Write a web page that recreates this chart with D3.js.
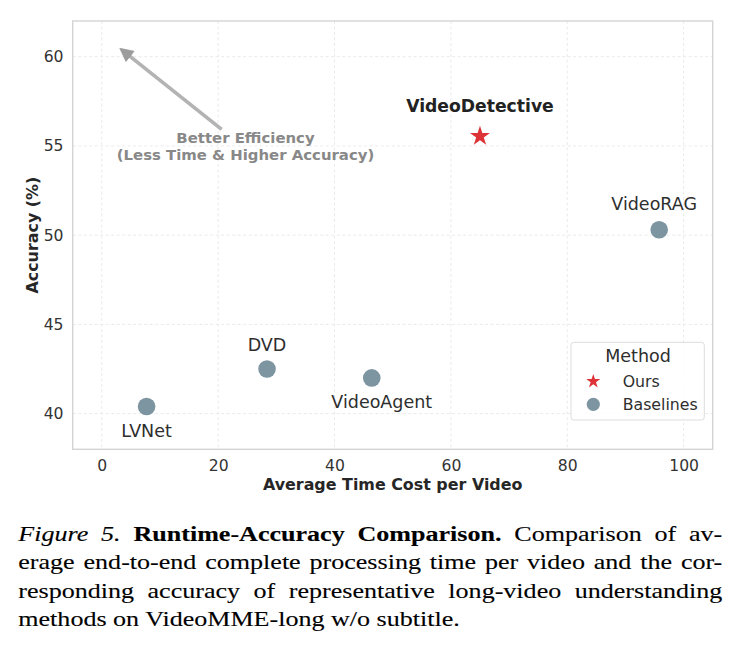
<!DOCTYPE html>
<html>
<head>
<meta charset="utf-8">
<script src="https://cdn.jsdelivr.net/npm/d3@7"></script>
<style>
  html, body { margin: 0; padding: 0; background: #ffffff; }
  svg { display: block; }
</style>
</head>
<body>
<svg id="chart" width="739" height="655"></svg>
<script>
// ---------------- DATA ----------------
const methods      = ["LVNet", "DVD", "VideoAgent", "VideoDetective", "VideoRAG"];
const timeCost     = [7.7, 28.4, 46.4, 65.0, 95.8];
const accuracy     = [40.4, 42.5, 42.0, 55.6, 50.3];
const methodGroup  = ["Baselines", "Baselines", "Baselines", "Ours", "Baselines"];
const xTicks       = [0, 20, 40, 60, 80, 100];
const yTicks       = [40, 45, 50, 55, 60];
const xDomain      = [-5, 105];
const yDomain      = [38, 62];
const legendGroups = ["Ours", "Baselines"];
const arrowTip     = [3.1, 60.47];
const arrowTail    = [20.6, 55.93];
const annotationAt = [24.7, 55.0];
const annotationLines = ["Better Efficiency", "(Less Time & Higher Accuracy)"];
const xLabel = "Average Time Cost per Video";
const yLabel = "Accuracy (%)";
const legendTitle = "Method";
const captionLines = [
  [["Figure 5.", "italic"], [" ", "normal"], ["Runtime-Accuracy Comparison.", "bold"], [" Comparison of av-", "normal"]],
  [["erage end-to-end complete processing time per video and the cor-", "normal"]],
  [["responding accuracy of representative long-video understanding", "normal"]],
  [["methods on VideoMME-long w/o subtitle.", "normal"]]
];

// ---------------- STYLE / LAYOUT ----------------
const plot = { left: 72.7, right: 712.7, top: 21, bottom: 449.3 };
const sansFont = "'DejaVu Sans', sans-serif";
const serifFont = "'Liberation Serif', 'Times New Roman', serif";
const baseColor = "#7d94a1";
const oursColor = "#dd3338";
// label offsets (px) relative to each point: [dx, dy of baseline], bold flag
const labelStyle = {
  "LVNet":          { dx: 0,   dy: 31,    bold: false },
  "DVD":            { dx: 0,   dy: -18.3, bold: false },
  "VideoAgent":     { dx: 10,  dy: 29.6,  bold: false },
  "VideoDetective": { dx: 0,   dy: -23.3, bold: true },
  "VideoRAG":       { dx: -5,  dy: -19.3, bold: false }
};

const svg = d3.select("#chart");

const x = d3.scaleLinear().domain(xDomain).range([plot.left, plot.right]);
const y = d3.scaleLinear().domain(yDomain).range([plot.bottom, plot.top]);

function starPath(R, r) {
  const pts = [];
  for (let i = 0; i < 10; i++) {
    const rad = i % 2 === 0 ? R : r;
    const a = -Math.PI / 2 + i * Math.PI / 5;
    pts.push([rad * Math.cos(a), rad * Math.sin(a)]);
  }
  return "M" + pts.map(p => p[0].toFixed(3) + "," + p[1].toFixed(3)).join("L") + "Z";
}

// ---------- grid ----------
const grid = svg.append("g");
grid.selectAll("line.gx").data(xTicks).enter().append("line")
  .attr("x1", d => x(d)).attr("x2", d => x(d))
  .attr("y1", plot.top).attr("y2", plot.bottom)
  .attr("stroke", "#e8e8e8").attr("stroke-width", 0.9).attr("stroke-dasharray", "3,2.5");
grid.selectAll("line.gy").data(yTicks).enter().append("line")
  .attr("y1", d => y(d)).attr("y2", d => y(d))
  .attr("x1", plot.left).attr("x2", plot.right)
  .attr("stroke", "#e8e8e8").attr("stroke-width", 0.9).attr("stroke-dasharray", "3,2.5");

// ---------- frame ----------
svg.append("rect")
  .attr("x", plot.left).attr("y", plot.top)
  .attr("width", plot.right - plot.left).attr("height", plot.bottom - plot.top)
  .attr("fill", "none").attr("stroke", "#d4d4d4").attr("stroke-width", 1.4);

// ---------- axes (tick labels) ----------
const xAxis = svg.append("g").attr("transform", `translate(0,${plot.bottom})`)
  .call(d3.axisBottom(x).tickValues(xTicks).tickSize(0).tickPadding(10.4).tickFormat(d3.format("d")));
const yAxis = svg.append("g").attr("transform", `translate(${plot.left},0)`)
  .call(d3.axisLeft(y).tickValues(yTicks).tickSize(0).tickPadding(9.2).tickFormat(d3.format("d")));
[xAxis, yAxis].forEach(a => {
  a.select(".domain").remove();
  a.selectAll("text").attr("font-family", sansFont).attr("font-size", 15.6).attr("fill", "#333333");
});

// ---------- axis labels ----------
svg.append("text")
  .attr("x", (plot.left + plot.right) / 2).attr("y", 490)
  .attr("text-anchor", "middle")
  .attr("font-family", sansFont).attr("font-size", 15.9).attr("font-weight", "bold").attr("fill", "#262626")
  .text(xLabel);
svg.append("text")
  .attr("transform", `translate(38,${(plot.top + plot.bottom) / 2}) rotate(-90)`)
  .attr("text-anchor", "middle")
  .attr("font-family", sansFont).attr("font-size", 15.9).attr("font-weight", "bold").attr("fill", "#262626")
  .text(yLabel);

// ---------- annotation arrow ----------
const tip = [x(arrowTip[0]), y(arrowTip[1])];
const tail = [x(arrowTail[0]), y(arrowTail[1])];
const dxA = tip[0] - tail[0], dyA = tip[1] - tail[1];
const lenA = Math.hypot(dxA, dyA);
const ux = dxA / lenA, uy = dyA / lenA;
const headLen = 13, headHalf = 6.5;
const base = [tip[0] - ux * headLen, tip[1] - uy * headLen];
svg.append("line")
  .attr("x1", tail[0]).attr("y1", tail[1])
  .attr("x2", base[0] + ux * 2).attr("y2", base[1] + uy * 2)
  .attr("stroke", "#b3b3b3").attr("stroke-width", 3.6);
svg.append("path")
  .attr("d", `M${tip[0]},${tip[1]}L${base[0] - uy * headHalf},${base[1] + ux * headHalf}L${base[0] + uy * headHalf},${base[1] - ux * headHalf}Z`)
  .attr("fill", "#9c9c9c").attr("stroke", "#9c9c9c").attr("stroke-width", 0.8).attr("stroke-linejoin", "round");

const ann = svg.append("text")
  .attr("text-anchor", "middle")
  .attr("font-family", sansFont).attr("font-size", 14.9).attr("font-weight", "bold").attr("fill", "#888888");
annotationLines.forEach((t, i) => {
  ann.append("tspan")
    .attr("x", x(annotationAt[0]))
    .attr("y", y(annotationAt[1]) - 2.8 + i * 16.6)
    .text(t);
});

// ---------- points ----------
const data = methods.map((m, i) => ({ name: m, t: timeCost[i], a: accuracy[i], g: methodGroup[i] }));

svg.selectAll("circle.pt").data(data.filter(d => d.g === "Baselines")).enter()
  .append("circle")
  .attr("cx", d => x(d.t)).attr("cy", d => y(d.a)).attr("r", 8.8)
  .attr("fill", baseColor);

svg.selectAll("path.star").data(data.filter(d => d.g === "Ours")).enter()
  .append("path")
  .attr("transform", d => `translate(${x(d.t)},${y(d.a) + 1})`)
  .attr("d", starPath(10.5, 10.5 * 0.382))
  .attr("fill", oursColor);

svg.selectAll("text.lbl").data(data).enter()
  .append("text")
  .attr("x", d => x(d.t) + labelStyle[d.name].dx)
  .attr("y", d => y(d.a) + labelStyle[d.name].dy)
  .attr("text-anchor", "middle")
  .attr("font-family", sansFont)
  .attr("font-size", d => labelStyle[d.name].bold ? 17.2 : 17.5)
  .attr("font-weight", d => labelStyle[d.name].bold ? "bold" : "normal")
  .attr("fill", d => labelStyle[d.name].bold ? "#222222" : "#2e2e2e")
  .text(d => d.name);

// ---------- legend ----------
const lg = svg.append("g");
lg.append("rect")
  .attr("x", 571).attr("y", 342.3).attr("width", 133.3).attr("height", 77.7)
  .attr("rx", 3).attr("fill", "#ffffff").attr("fill-opacity", 0.85)
  .attr("stroke", "#dddddd").attr("stroke-width", 1);
lg.append("text")
  .attr("x", 638).attr("y", 362)
  .attr("text-anchor", "middle")
  .attr("font-family", sansFont).attr("font-size", 17.5).attr("fill", "#2e2e2e")
  .text(legendTitle);
legendGroups.forEach((g, i) => {
  const cy = 380.7 + i * 23.6;
  if (g === "Ours") {
    lg.append("path").attr("transform", `translate(593.3,${cy + 0.7})`)
      .attr("d", starPath(7.4, 7.4 * 0.382)).attr("fill", oursColor);
  } else {
    lg.append("circle").attr("cx", 593.3).attr("cy", cy).attr("r", 6.6).attr("fill", baseColor);
  }
  lg.append("text")
    .attr("x", 622.7).attr("y", cy + 5.8)
    .attr("font-family", sansFont).attr("font-size", 15.75).attr("fill", "#2e2e2e")
    .text(g);
});

// ---------- caption ----------
const capX = 18.3, capRight = 722.3, capFont = 20.5;
const capBaselines = [541, 569.3, 597.7, 626];
const capNodes = captionLines.map((parts, li) => {
  const t = svg.append("text")
    .attr("font-family", serifFont).attr("font-size", capFont)
    .attr("fill", "#000000").attr("stroke", "#000000").attr("stroke-width", 0.12)
    .attr("x", 0).attr("y", 0)
    .style("white-space", "pre");
  parts.forEach(([s, st]) => {
    const ts = t.append("tspan").text(s);
    if (st === "italic") ts.attr("font-style", "italic");
    if (st === "bold") ts.attr("font-weight", "bold");
  });
  return t;
});
// horizontal scale from the last (unjustified) line
const lastW = capNodes[3].node().getComputedTextLength();
const sx = (460 - capX) / lastW;
const sy = 1.04;
capNodes.forEach((t, li) => {
  t.attr("transform", `translate(${capX},${capBaselines[li]}) scale(${sx},${sy})`);
  if (li < 3) {
    const w = t.node().getComputedTextLength();
    const txt = captionLines[li].map(p => p[0]).join("");
    const nSp = (txt.match(/ /g) || []).length;
    const target = (capRight - capX) / sx;
    t.attr("word-spacing", (target - w) / nSp);
  }
});
</script>
</body>
</html>
